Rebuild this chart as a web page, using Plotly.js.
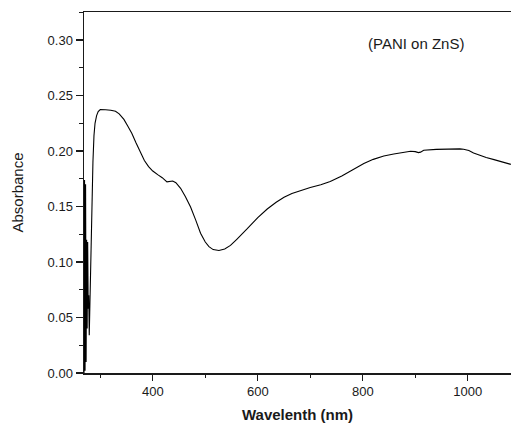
<!DOCTYPE html>
<html>
<head>
<meta charset="utf-8">
<script src="https://cdn.plot.ly/plotly-3.0.1.min.js"></script>
<style>
html,body{margin:0;padding:0;background:#fff;}
#chart{width:511px;height:423px;}
</style>
</head>
<body>
<div id="chart"></div>
<script>
// Wavelength (nm)
const wavelength = [269,270,271,272,273,274,275,276,277,278,279,280,281,282,283,284.5,286,288,290,293,296,300,305,310,320,329,336,345,352,360,368,376,384,392,400,410,418,427,433,438,444,453,462,472,482,491,500,507,515,526,537,548,560,570,580,600,618,635,650,665,681,700,720,738,760,780,802,820,840,859,875,891,900,906,910,916,940,960,973,985,992,1002,1011,1016,1021,1035,1050,1065,1082];
// Absorbance
const absorbance = [0.000,0.174,0.002,0.170,0.010,0.120,0.040,0.118,0.058,0.070,0.034,0.060,0.088,0.083,0.120,0.155,0.190,0.214,0.225,0.232,0.2355,0.2374,0.2370,0.2372,0.2368,0.2358,0.2335,0.2285,0.2228,0.2160,0.2075,0.1990,0.1915,0.1860,0.1820,0.1785,0.1760,0.1722,0.1728,0.1730,0.1715,0.1664,0.1590,0.1495,0.1375,0.1260,0.1180,0.1138,0.1112,0.1104,0.1118,0.1150,0.1205,0.1250,0.1300,0.1400,0.1478,0.1538,0.1583,0.1618,0.1645,0.1672,0.1697,0.1725,0.1775,0.1832,0.1887,0.1925,0.1955,0.1973,0.1986,0.1998,0.1995,0.1986,0.1990,0.2007,0.2015,0.2020,0.2022,0.2020,0.2016,0.2005,0.1983,0.1975,0.1962,0.1942,0.1923,0.1903,0.1880];

const xTickVals = [400,600,800,1000];
const yTickVals = [0.00,0.05,0.10,0.15,0.20,0.25,0.30];
const yTickText = ["0.00","0.05","0.10","0.15","0.20","0.25","0.30"];

const font = "Arial, 'Liberation Sans', Helvetica, sans-serif";
const ink = "#1a1a1a";

const trace = {
  x: wavelength, y: absorbance, type: "scatter", mode: "lines",
  line: {color: "#000", width: 1.1},
  hoverinfo: "skip"
};

const layout = {
  width: 511, height: 423,
  margin: {l: 84, r: 0, t: 12, b: 50},
  paper_bgcolor: "#fff", plot_bgcolor: "#fff",
  showlegend: false,
  font: {family: font, color: ink, size: 13},
  xaxis: {
    range: [269, 1082.3],
    tickmode: "array", tickvals: xTickVals,
    ticks: "outside", ticklen: 6, tickwidth: 1.2, tickcolor: ink,
    minor: {dtick: 100, tick0: 0, ticks: "outside", ticklen: 3, tickwidth: 1.2, tickcolor: ink},
    showline: true, linewidth: 1.5, linecolor: ink, mirror: true,
    showgrid: false, zeroline: false,
    tickfont: {family: font, size: 13, color: ink},
    title: {text: "<b>Wavelenth (nm)</b>", font: {family: font, size: 15, color: ink}, standoff: 12}
  },
  yaxis: {
    range: [0, 0.3253],
    tickmode: "array", tickvals: yTickVals, ticktext: yTickText,
    ticks: "outside", ticklen: 7, tickwidth: 1.2, tickcolor: ink,
    minor: {dtick: 0.025, tick0: 0, ticks: "outside", ticklen: 4, tickwidth: 1.2, tickcolor: ink},
    showline: true, linewidth: 1.5, linecolor: ink, mirror: false,
    showgrid: false, zeroline: false,
    tickfont: {family: font, size: 13, color: ink},
    title: {text: "Absorbance", font: {family: font, size: 15, color: ink}, standoff: 20}
  },
  annotations: [{
    xref: "paper", yref: "paper", x: 0.777, y: 0.914,
    text: "(PANI on ZnS)", showarrow: false,
    font: {family: font, size: 15, color: ink},
    xanchor: "center", yanchor: "middle"
  }]
};

Plotly.newPlot("chart", [trace], layout, {staticPlot: true, displayModeBar: false});
</script>
</body>
</html>
